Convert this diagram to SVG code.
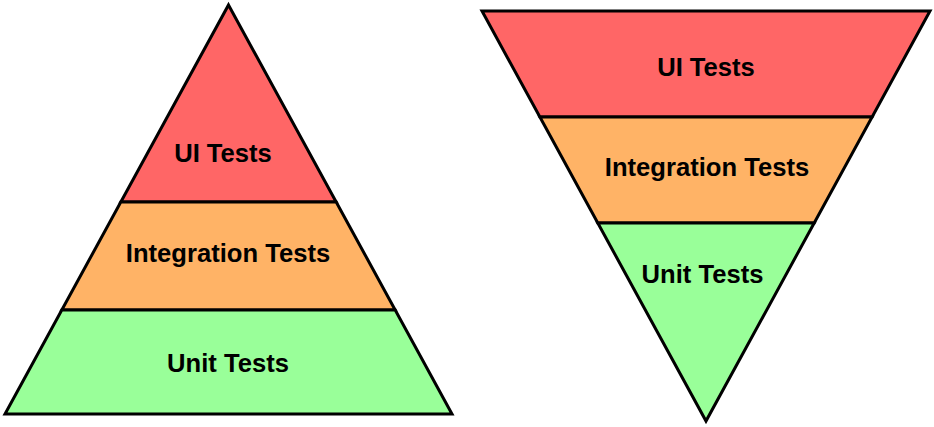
<svg xmlns="http://www.w3.org/2000/svg" width="934" height="427" viewBox="0 0 934 427">
<style>
.b{stroke:#000;stroke-width:3;stroke-linejoin:miter}
.r{fill:#FF6666}.o{fill:#FFB366}.g{fill:#99FF99}
text{font-family:"Liberation Sans",Arial,sans-serif;font-weight:bold;font-size:25.6px;fill:#000;text-anchor:middle}
</style>
<rect width="934" height="427" fill="#fff"/>
<g id="pyramid">
<g id="left-ui"><polygon class="b r" points="228.5,5 336.2,202 120.8,202"/><text x="223" y="161.7">UI Tests</text></g>
<g id="left-integration"><polygon class="b o" points="120.8,202 336.2,202 395.2,310 61.8,310"/><text x="228" y="261.7">Integration Tests</text></g>
<g id="left-unit"><polygon class="b g" points="61.8,310 395.2,310 452,414 5,414"/><text x="228" y="371.7">Unit Tests</text></g>
</g>
<g id="inverted">
<g id="right-ui"><polygon class="b r" points="482,11 930,11 872.1,117 539.9,117"/><text x="706" y="76">UI Tests</text></g>
<g id="right-integration"><polygon class="b o" points="539.9,117 872.1,117 814.2,223 597.8,223"/><text x="707" y="176">Integration Tests</text></g>
<g id="right-unit"><polygon class="b g" points="597.8,223 814.2,223 706,421"/><text x="702.5" y="283">Unit Tests</text></g>
</g>
<g id="connectors"/>
</svg>
